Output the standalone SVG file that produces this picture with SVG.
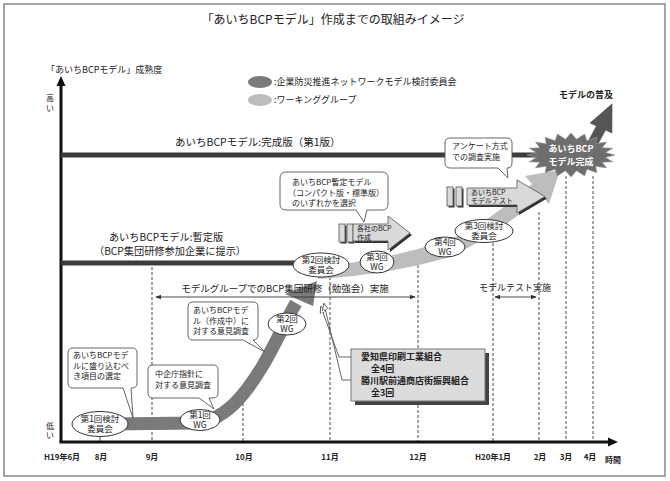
<svg xmlns="http://www.w3.org/2000/svg" width="670" height="481" viewBox="0 0 670 481">
<defs>
<style>
text{font-family:"Noto Sans CJK JP","Noto Sans",sans-serif;fill:#222;}
.ttl{font-size:12px;}
.s9{font-size:9px;}
.s85{font-size:8.5px;}
.s8{font-size:8px;}
.s7{font-size:7px;}
.b{font-weight:bold;}
.mid{text-anchor:middle;}
.node{fill:#fff;stroke:#333;stroke-width:1;}
.call{fill:#fff;stroke:#555;stroke-width:0.9;}
.dash{stroke:#333;stroke-width:0.9;stroke-dasharray:3 2;fill:none;}
.bar{fill:#3c3c3c;}
.blk{fill:#d9d9d9;stroke:#555;stroke-width:0.8;}
.shd{fill:#333;}
</style>
<marker id="ah" viewBox="0 0 8 8" refX="7" refY="4" markerWidth="6" markerHeight="6" orient="auto-start-reverse" markerUnits="userSpaceOnUse">
<path d="M0,0.8 L8,4 L0,7.2 Z" fill="#333"/>
</marker>
<marker id="ah2" viewBox="0 0 8 8" refX="7" refY="4" markerWidth="7" markerHeight="7" orient="auto" markerUnits="userSpaceOnUse">
<path d="M0,0.5 L8,4 L0,7.5 Z" fill="#fff" stroke="#555" stroke-width="1"/>
</marker>
</defs>
<rect x="0" y="0" width="670" height="481" fill="#fff"/>
<rect x="4" y="4" width="661" height="472" fill="#fff" stroke="#888" stroke-width="1.5"/>
<text class="ttl mid" x="333" y="24">「あいちBCPモデル」作成までの取組みイメージ</text>

<g id="legend">
<ellipse cx="260" cy="82" rx="12" ry="6" fill="#7a7a7a"/>
<text class="s9" x="274" y="85">:企業防災推進ネットワークモデル検討委員会</text>
<ellipse cx="260" cy="100" rx="12" ry="6" fill="#bdbdbd"/>
<text class="s9" x="274" y="103">:ワーキンググループ</text>
</g>

<g id="axes">
<text class="s9" x="46" y="73">「あいちBCPモデル」成熟度</text>
<text class="s8 mid" x="50" y="101">高<tspan x="50" dy="9.5">い</tspan></text>
<text class="s8 mid" x="50" y="428.5">低<tspan x="50" dy="9.5">い</tspan></text>
<line x1="61" y1="442" x2="61" y2="84" stroke="#111" stroke-width="3"/>
<path d="M61,76 L56.5,86 L65.5,86 Z" fill="#111"/>
<line x1="59.5" y1="442" x2="609" y2="442" stroke="#111" stroke-width="3"/>
<path d="M618,442 L608,437.5 L608,446.5 Z" fill="#111"/>
<g class="s8 b">
<text class="mid" x="62" y="460">H19年6月</text>
<text class="mid" x="101" y="460">8月</text>
<text class="mid" x="152" y="460">9月</text>
<text class="mid" x="244" y="460">10月</text>
<text class="mid" x="330" y="460">11月</text>
<text class="mid" x="418" y="460">12月</text>
<text class="mid" x="493" y="460">H20年1月</text>
<text class="mid" x="540" y="460">2月</text>
<text class="mid" x="566" y="460">3月</text>
<text class="mid" x="590" y="460">4月</text>
<text class="mid" x="613" y="463">時間</text>
</g>
</g>

<g id="levels">
<rect x="61" y="152.5" width="480" height="5" class="bar"/>
<text x="175" y="146" style="font-size:10.5px">あいちBCPモデル:完成版（第1版）</text>
<rect x="61" y="260.5" width="236" height="5" class="bar"/>
<text class="mid" x="166" y="240.5" style="font-size:10.2px">あいちBCPモデル:暫定版</text>
<text class="mid" x="170" y="254.5" style="font-size:10.2px">（BCP集団研修参加企業に提示）</text>
</g>

<g id="connectors">
<line class="dash" x1="152" y1="267" x2="152" y2="441"/>
<line class="dash" x1="243" y1="393" x2="243" y2="441"/>
<line class="dash" x1="330" y1="277" x2="330" y2="441"/>
<line class="dash" x1="418" y1="265" x2="418" y2="441"/>
<line class="dash" x1="493" y1="243" x2="493" y2="441"/>
<line class="dash" x1="539" y1="212" x2="539" y2="441"/>
<line class="dash" x1="566" y1="176" x2="566" y2="441"/>
<line class="dash" x1="593" y1="176" x2="593" y2="441"/>
<line x1="100" y1="437" x2="100" y2="441" stroke="#333" stroke-width="0.9"/>

<path id="band1" d="M112,424 L195,423 C225,421 245,395 262,367 C275,345 285,322 296,303" fill="none" stroke="#7a7a7a" stroke-width="13"/>
<path d="M285,294 L317,281 L313,306 Z" fill="#7a7a7a"/>
<path id="band2" d="M318,267 C350,264 400,256 445,241 C470,232 500,212 532,184 L525,176 L560,170 L549,204 L542,196 C510,224 475,245 450,257 C405,270 355,277 318,279 Z" fill="#bdbdbd"/>

<line x1="156" y1="297" x2="415" y2="297" stroke="#333" stroke-width="0.9" marker-start="url(#ah)" marker-end="url(#ah)"/>
<text class="mid" x="285" y="292" style="font-size:9.5px">モデルグループでのBCP集団研修（勉強会）実施</text>
<line x1="495" y1="297" x2="536" y2="297" stroke="#333" stroke-width="0.9" marker-start="url(#ah)" marker-end="url(#ah)"/>
<text class="s9 mid" x="515" y="291">モデルテスト実施</text>

<polyline points="351,357 339,357 321,307" fill="none" stroke="#555" stroke-width="0.9" marker-end="url(#ah2)"/>
<polyline points="351,380 342,380 324,304" fill="none" stroke="#555" stroke-width="0.9" marker-end="url(#ah2)"/>
</g>

<g id="arrow-bcp">
<rect x="340.5" y="225.5" width="6" height="18" class="shd"/>
<rect x="339" y="224" width="6" height="18" class="blk"/>
<rect x="348.5" y="225.5" width="6" height="18" class="shd"/>
<rect x="347" y="224" width="6" height="18" class="blk"/>
<polygon points="355,226 390,226 390,218 412,235 390,252 390,243 355,243" class="shd"/>
<polygon points="353,224 388,224 388,216 410,233 388,250 388,241 353,241" class="blk"/>
<text class="s7" x="357" y="231">各社のBCP</text>
<text class="s7" x="357" y="239.5">作成</text>
</g>

<g id="arrow-test">
<rect x="448.5" y="188.5" width="6" height="19" class="shd"/>
<rect x="447" y="187" width="6" height="19" class="blk"/>
<rect x="457.5" y="188.5" width="6" height="19" class="shd"/>
<rect x="456" y="187" width="6" height="19" class="blk"/>
<polygon points="469,190 519,190 519,182 547,198.5 519,215 519,207 469,207" class="shd"/>
<polygon points="467,188 517,188 517,180 545,196.5 517,213 517,205 467,205" class="blk"/>
<text class="s7" x="471" y="194.5">あいちBCP</text>
<text class="s7" x="471" y="203">モデルテスト</text>
</g>

<g id="callout-1">
<path class="call" d="M73,348 H132 Q137,348 137,353 V383 Q137,388 132,388 H131 L133,418 L123,388 H73 Q68,388 68,383 V353 Q68,348 73,348 Z"/>
<text class="s8" x="73" y="358">あいちBCPモデ</text>
<text class="s8" x="73" y="368.5">ルに盛り込むべ</text>
<text class="s8" x="73" y="379">き項目の選定</text>
</g>
<g id="callout-2">
<path class="call" d="M153,365 H213 Q218,365 218,370 V393 Q218,398 213,398 H209 L214,409 L199,398 H153 Q148,398 148,393 V370 Q148,365 153,365 Z"/>
<text class="s8" x="155" y="377">中企庁指針に</text>
<text class="s8" x="155" y="388">対する意見調査</text>
</g>
<g id="callout-3">
<path class="call" d="M193,302 H253 Q258,302 258,307 V335 Q258,340 253,340 L265,352 L243,340 H193 Q188,340 188,335 V307 Q188,302 193,302 Z"/>
<text class="s8" x="193" y="313">あいちBCPモデ</text>
<text class="s8" x="193" y="323.5">ル（作成中）に</text>
<text class="s8" x="193" y="334">対する意見調査</text>
</g>
<g id="callout-4">
<path class="call" d="M286,172 H382 Q388,172 388,178 V204 Q388,210 382,210 H367 L364,222 L356,210 H286 Q280,210 280,204 V178 Q280,172 286,172 Z"/>
<text class="s8" x="292" y="185">あいちBCP暫定モデル</text>
<text class="s8" x="288" y="195.5">（コンパクト版・標準版）</text>
<text class="s8" x="292" y="206">のいずれかを選択</text>
</g>
<g id="callout-5">
<path class="call" d="M450,138 H507 Q512,138 512,143 V163 Q512,168 507,168 L508,178 L498,168 H450 Q445,168 445,163 V143 Q445,138 450,138 Z"/>
<text class="s8" x="452" y="149">アンケート方式</text>
<text class="s8" x="452" y="160">での調査実施</text>
</g>

<g id="node-c1"><ellipse class="node" cx="100" cy="424" rx="28" ry="12.5"/><text class="s85 mid" x="100" y="421.5">第1回検討</text><text class="s85 mid" x="100" y="432">委員会</text></g>
<g id="node-wg1"><ellipse class="node" cx="200" cy="420" rx="20" ry="10.5"/><text class="s85 mid" x="200" y="417.5">第1回</text><text class="s85 mid" x="200" y="428">WG</text></g>
<g id="node-wg2"><ellipse class="node" cx="287" cy="324" rx="19" ry="11"/><text class="s85 mid" x="287" y="321.5">第2回</text><text class="s85 mid" x="287" y="332">WG</text></g>
<g id="node-c2"><ellipse class="node" cx="321" cy="265" rx="28" ry="12"/><text class="s85 mid" x="321" y="262.5">第2回検討</text><text class="s85 mid" x="321" y="273">委員会</text></g>
<g id="node-wg3"><ellipse class="node" cx="377" cy="262" rx="17" ry="11"/><text class="s85 mid" x="377" y="259.5">第3回</text><text class="s85 mid" x="377" y="270">WG</text></g>
<g id="node-wg4"><ellipse class="node" cx="445" cy="247" rx="20" ry="10"/><text class="s85 mid" x="445" y="244.5">第4回</text><text class="s85 mid" x="445" y="255">WG</text></g>
<g id="node-c3"><ellipse class="node" cx="484" cy="231" rx="29" ry="11.5"/><text class="s85 mid" x="484" y="228.5">第3回検討</text><text class="s85 mid" x="484" y="239">委員会</text></g>

<g id="spread">
<path d="M583.5,149.9 L596.5,125.9 L590.1,123 L612,104 L611.9,133 L605.5,130.1 L592.5,154.1 Z" fill="#555" stroke="#444" stroke-width="0.6"/>
<text class="s9 b mid" x="586" y="98">モデルの普及</text>
</g>
<g id="complete">
<polygon fill="#6e6e6e" stroke="#999" stroke-width="0.6" points="615,155 605.6,157.5 612.8,161.8 602.2,162.3 606.6,167.9 595.7,166.3 596.9,172.8 586.9,169.3 584.6,175.9 576.5,170.8 571,177 565.5,170.8 557.4,175.9 555.1,169.3 545.1,172.8 546.3,166.3 535.4,167.9 539.8,162.3 529.2,161.8 536.4,157.5 527,155 536.4,152.5 529.2,148.2 539.8,147.7 535.4,142.1 546.3,143.7 545.1,137.2 555.1,140.7 557.4,134.1 565.5,139.2 571,133 576.5,139.2 584.6,134.1 586.9,140.7 596.9,137.2 595.7,143.7 606.6,142.1 602.2,147.7 612.8,148.2 605.6,152.5"/>
<text class="mid b" x="571" y="152" style="font-size:9px;fill:#fff">あいちBCP</text>
<text class="mid b" x="571" y="164.5" style="font-size:9px;fill:#fff">モデル完成</text>
</g>

<g id="box-groups">
<rect x="355" y="353" width="134" height="52" fill="#444"/>
<rect x="351" y="349" width="134" height="52" fill="#dcdcdc" stroke="#777" stroke-width="1"/>
<text class="b" x="361" y="360" style="font-size:9px">愛知県印刷工業組合</text>
<text class="b" x="371" y="372" style="font-size:9px">全4回</text>
<text class="b" x="361" y="384" style="font-size:9px">勝川駅前通商店街振興組合</text>
<text class="b" x="371" y="396" style="font-size:9px">全3回</text>
</g>
</svg>
